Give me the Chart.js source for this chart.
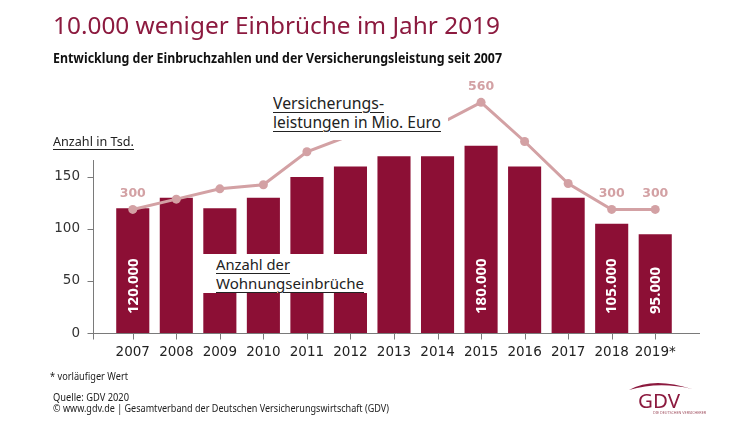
<!DOCTYPE html>
<html><head><meta charset="utf-8">
<script src="https://cdn.jsdelivr.net/npm/chart.js@4.4.0/dist/chart.umd.min.js"></script>
<style>
html,body{margin:0;padding:0;background:#fff;}
#wrap{position:relative;width:750px;height:422px;overflow:hidden;background:#fff;}
#c{position:absolute;left:0;top:0;}
.t{position:absolute;white-space:nowrap;line-height:1;transform-origin:0 0;font-family:"Noto Sans",sans-serif;color:#1a1a1a;}
.u{text-decoration:underline;text-decoration-thickness:1px;text-underline-offset:3px;}
.box{position:absolute;background:#fff;}
</style></head>
<body><div id="wrap">
<canvas id="c" width="750" height="422"></canvas>
<div class="t" data-w="447" style="left:53px;top:12.7px;font-size:24px;color:#8c1a3f;">10.000 weniger Einbrüche im Jahr 2019</div>
<div class="t" data-w="449" style="left:53px;top:52px;font-size:13.5px;font-weight:bold;color:#111;">Entwicklung der Einbruchzahlen und der Versicherungsleistung seit 2007</div>
<div class="t u" data-w="81" style="left:53px;top:136.2px;font-size:12.5px;color:#222;">Anzahl in Tsd.</div>

<div class="box" style="left:268px;top:90px;width:180px;height:50px;"></div>
<div class="t u" data-w="111" style="left:273px;top:94.8px;font-size:16px;color:#222;">Versicherungs-</div>
<div class="t u" data-w="168" style="left:273px;top:113.8px;font-size:16px;color:#222;">leistungen in Mio. Euro</div>

<div class="box" style="left:198px;top:254px;width:174px;height:39px;"></div>
<div class="t u" data-w="74" style="left:216px;top:256.7px;font-size:15px;color:#222;">Anzahl der</div>
<div class="t u" data-w="148" style="left:216px;top:275.7px;font-size:15px;color:#222;">Wohnungseinbrüche</div>

<div class="t" data-w="78" style="left:50px;top:371.1px;font-size:10.5px;color:#222;">* vorläufiger Wert</div>
<div class="t" data-w="76" style="left:53px;top:391.6px;font-size:10.5px;color:#222;">Quelle: GDV 2020</div>
<div class="t" data-w="336" style="left:53px;top:403.1px;font-size:10.5px;color:#222;">© www.gdv.de | Gesamtverband der Deutschen Versicherungswirtschaft (GDV)</div>

<svg style="position:absolute;left:625px;top:378px;" width="90" height="42" viewBox="0 0 90 42">
  <path d="M4,12 Q28,-1.5 67,11 Q34,3 4,12 Z" fill="#8c1a3f"/>
  <text x="13" y="30" font-family="Noto Sans" font-size="19.5" fill="#8c1a3f" textLength="42" lengthAdjust="spacingAndGlyphs">GDV</text>
  <text x="28" y="35.5" font-family="Noto Sans" font-size="3.4" fill="#a05060" textLength="53" lengthAdjust="spacingAndGlyphs">DIE DEUTSCHEN VERSICHERER</text>
</svg>
</div>
<script>
const years = ['2007','2008','2009','2010','2011','2012','2013','2014','2015','2016','2017','2018','2019*'];
const einbrueche = [120,130,120,130,150,160,170,170,180,160,130,105,95];
const leistungen = [300,325,350,360,440,480,490,505,560,465,363,300,300];
const einbruchLabels = ['120.000',null,null,null,null,null,null,null,'180.000',null,null,'105.000','95.000'];
const leistungLabels = ['300',null,null,null,null,null,null,null,'560',null,null,'300','300'];
const yTicks = [0,50,100,150];
const yAxisTop = 166.3;

const BAR = '#8c0f35';
const LINE = '#d3a1a4';

document.querySelectorAll('.t[data-w]').forEach(el => {
  const w = el.getBoundingClientRect().width;
  const target = parseFloat(el.dataset.w);
  if (w > 0) el.style.transform = 'scaleX(' + (target / w) + ')';
});

const deco = {
  id: 'deco',
  beforeDatasetsDraw(chart) {
    const {ctx, chartArea: a, scales: {x, y}} = chart;
    ctx.save();
    ctx.strokeStyle = '#7a7a7a';
    ctx.lineWidth = 1;
    const ax = a.left - 18 + 0.5;
    const ay = Math.round(y.getPixelForValue(0)) + 0.5;
    ctx.beginPath();
    ctx.moveTo(ax, y.getPixelForValue(yAxisTop)); ctx.lineTo(ax, ay + 6);
    ctx.moveTo(ax, ay); ctx.lineTo(a.right + 23, ay);
    yTicks.forEach(v => {
      const py = Math.round(y.getPixelForValue(v)) + 0.5;
      ctx.moveTo(ax - 6, py); ctx.lineTo(ax, py);
    });
    years.forEach((_, i) => {
      const px = Math.round(x.getPixelForValue(i)) + 0.5;
      ctx.moveTo(px, ay); ctx.lineTo(px, ay + 6);
    });
    ctx.stroke();
    ctx.restore();
  },
  afterDatasetsDraw(chart) {
    const {ctx, scales: {x, y, y2}} = chart;
    ctx.save();
    ctx.fillStyle = '#ffffff';
    ctx.font = 'bold 15px "Noto Sans"';
    ctx.textAlign = 'left';
    ctx.textBaseline = 'middle';
    einbruchLabels.forEach((lab, i) => {
      if (!lab) return;
      const px = x.getPixelForValue(i);
      const py = y.getPixelForValue(0) - 19;
      ctx.save();
      ctx.translate(px + 0.5, py);
      ctx.rotate(-Math.PI / 2);
      ctx.fillText(lab, 0, 0);
      ctx.restore();
    });
    ctx.fillStyle = LINE;
    ctx.font = 'bold 12.5px "DejaVu Sans"';
    ctx.textAlign = 'center';
    leistungLabels.forEach((lab, i) => {
      if (!lab) return;
      const px = x.getPixelForValue(i);
      const py = y2.getPixelForValue(leistungen[i]) - 15.5;
      ctx.fillText(lab, px, py);
    });
    ctx.restore();
  }
};

new Chart(document.getElementById('c'), {
  data: {
    labels: years,
    datasets: [
      {
        type: 'line', label: 'Versicherungsleistungen in Mio. Euro', data: leistungen, yAxisID: 'y2',
        borderColor: LINE, backgroundColor: LINE, borderWidth: 3, pointRadius: 4.5,
        pointBackgroundColor: LINE, pointBorderWidth: 0, tension: 0, clip: false, order: 1
      },
      {
        type: 'bar', label: 'Anzahl der Wohnungseinbrüche', data: einbrueche, yAxisID: 'y',
        backgroundColor: BAR, borderWidth: 0, barPercentage: 0.76, categoryPercentage: 1, clip: false, order: 2
      }
    ]
  },
  options: {
    responsive: false,
    devicePixelRatio: 1,
    animation: false,
    layout: { padding: { left: 0, right: 73, top: 90, bottom: 0 } },
    plugins: { legend: { display: false }, tooltip: { enabled: false } },
    scales: {
      x: {
        type: 'category', offset: true,
        grid: { display: false, drawTicks: false }, border: { display: false },
        ticks: { font: { family: 'DejaVu Sans', size: 13.5 }, color: '#222', padding: 11, maxRotation: 0, autoSkip: false },
        afterFit: s => { s.height = 89; }
      },
      y: {
        type: 'linear', position: 'left', min: 0, max: 233.65,
        grid: { display: false, drawTicks: false }, border: { display: false },
        ticks: { font: { family: 'DejaVu Sans', size: 13.5 }, color: '#333', padding: 31, includeBounds: false },
        afterBuildTicks: s => { s.ticks = yTicks.map(v => ({ value: v })); },
        afterFit: s => { s.width = 111; }
      },
      y2: { type: 'linear', display: false, min: 0, max: 590 }
    }
  },
  plugins: [deco]
});
</script>
</body></html>
